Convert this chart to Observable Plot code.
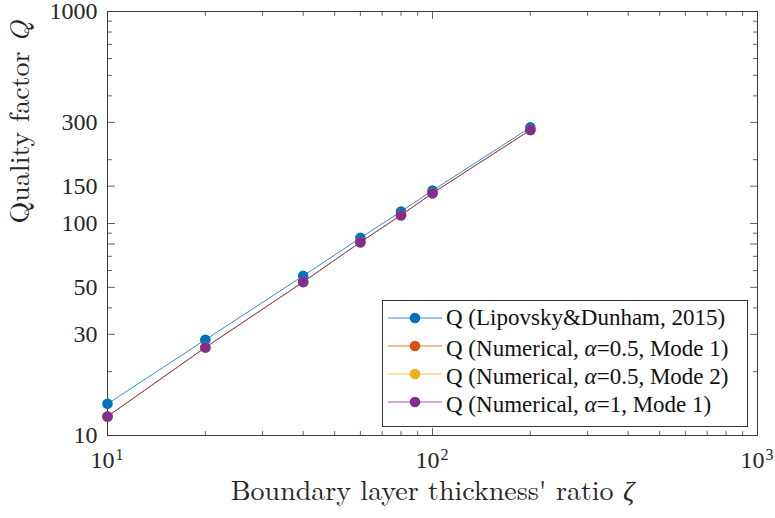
<!DOCTYPE html>
<html><head><meta charset="utf-8">
<script src="https://cdn.jsdelivr.net/npm/d3@7"></script>
<script src="https://cdn.jsdelivr.net/npm/@observablehq/plot@0.6"></script>
<style>
body{margin:0;background:#fff;}
#wrap{position:relative;width:775px;height:518px;}
</style></head><body><div id="wrap"></div>
<script>
// ---- data ----
const zeta = [10, 20, 40, 60, 80, 100, 200];
const qLipovsky = [14.1, 28.3, 56.6, 85.5, 114, 143, 284];
const qNum05Mode1 = [12.3, 26.0, 53.0, 81.6, 109.4, 139, 276];
const qNum05Mode2 = [12.3, 26.0, 53.0, 81.6, 109.4, 139, 276];
const qNum1Mode1 = [12.3, 26.0, 53.0, 81.6, 109.4, 139, 276];
const seriesNames = [
  "Q (Lipovsky&Dunham, 2015)",
  "Q (Numerical, α=0.5, Mode 1)",
  "Q (Numerical, α=0.5, Mode 2)",
  "Q (Numerical, α=1, Mode 1)"
];
const seriesColors = ["#0072BD", "#D95319", "#EDB120", "#7E2F8E"];
const yTicksLabeled = [10, 30, 50, 80, 100, 150, 300, 1000];
const yTicksMinor = [20, 40, 60, 70, 90, 200, 400, 500, 600, 700, 800, 900];
const xTicksMajor = [10, 100, 1000];
const xTicksMinor = [20, 30, 40, 50, 60, 70, 80, 90, 200, 300, 400, 500, 600, 700, 800, 900];
const xLabel = "Boundary layer thickness' ratio ζ";
const yLabel = "Quality factor Q";

const TIMES = "'Liberation Serif', 'Times New Roman', serif";
const LATEX = "'Latin Modern Roman', 'Liberation Serif', serif";

const seriesValues = [qLipovsky, qNum05Mode1, qNum05Mode2, qNum1Mode1];
const seriesData = seriesValues.map((vals, s) => zeta.map((z, i) => ({zeta: z, q: vals[i], s})));

const tickShape = {draw(ctx, l) { ctx.moveTo(0, 0); ctx.lineTo(0, -l); }};
const axisColor = "#3a3a3a";
function ticks(data, ch, anchor, rotate, length) {
  return Plot.vector(data, {[ch]: d => d, frameAnchor: anchor, rotate, length, anchor: "start", shape: tickShape, stroke: axisColor, strokeWidth: 0.8});
}

const marks = [];
marks.push(ticks(yTicksLabeled, "y", "left", 90, 7));
marks.push(ticks(yTicksMinor, "y", "left", 90, 4));
marks.push(ticks(yTicksLabeled, "y", "right", -90, 7));
marks.push(ticks(yTicksMinor, "y", "right", -90, 4));
marks.push(ticks(xTicksMajor, "x", "bottom", 0, 7));
marks.push(ticks(xTicksMinor, "x", "bottom", 0, 4));
marks.push(ticks(xTicksMajor, "x", "top", 180, 7));
marks.push(ticks(xTicksMinor, "x", "top", 180, 4));
marks.push(Plot.frame({stroke: axisColor, strokeWidth: 1}));
marks.push(Plot.axisY({ticks: yTicksLabeled, tickSize: 0, tickPadding: 10, tickFormat: d => String(d), fontSize: 24, fontFamily: TIMES, fill: "#262626", label: null}));
marks.push(Plot.text(xTicksMajor, {x: d => d, frameAnchor: "bottom", text: () => "10", dy: 32, dx: -5, fontSize: 24, fontFamily: TIMES, fill: "#262626"}));
marks.push(Plot.text(xTicksMajor, {x: d => d, frameAnchor: "bottom", text: d => String(Math.round(Math.log10(d))), dy: 24, dx: 8, textAnchor: "start", fontSize: 16, fontFamily: TIMES, fill: "#262626"}));
marks.push(Plot.text([xLabel], {frameAnchor: "bottom", text: d => d, dy: 64, fontSize: 28, fontFamily: LATEX, fill: "#262626", className: "xtitle"}));
marks.push(Plot.text([yLabel], {frameAnchor: "left", text: d => d, rotate: -90, dx: -87, fontSize: 28, fontFamily: LATEX, fill: "#262626", className: "ytitle"}));
seriesData.forEach((d, s) => {
  marks.push(Plot.line(d, {x: "zeta", y: "q", stroke: seriesColors[s], strokeWidth: 0.8}));
  marks.push(Plot.dot(d, {x: "zeta", y: "q", fill: seriesColors[s], r: 5.3}));
});

const chart = Plot.plot({
  width: 775, height: 518,
  marginLeft: 107, marginRight: 18, marginTop: 11, marginBottom: 83,
  style: {fontSize: "24px", color: "#262626", background: "#fff"},
  x: {type: "log", domain: [10, 1000], axis: null},
  y: {type: "log", domain: [10, 1000], axis: null},
  marks
});
document.getElementById("wrap").appendChild(chart);

function italicLast(sel, ch) {
  d3.select(chart).selectAll(sel + " text").each(function() {
    const t = this.textContent;
    const idx = t.lastIndexOf(ch);
    this.textContent = "";
    const el = d3.select(this);
    el.append("tspan").text(t.slice(0, idx));
    el.append("tspan").attr("font-style", "italic").text(ch);
  });
}
italicLast(".xtitle", "ζ");
italicLast(".ytitle", "Q");

// legend
const legend = d3.select("#wrap").append("div")
  .style("position", "absolute").style("left", "382px").style("top", "300px")
  .style("width", "366px").style("height", "127px").style("box-sizing", "border-box")
  .style("border", "1px solid #333").style("background", "#fff")
  .style("font-family", TIMES).style("font-size", "23px").style("color", "#111");
seriesNames.forEach((name, s) => {
  const row = legend.append("div")
    .style("position", "absolute").style("left", "0px").style("top", (3 + s * 28) + "px")
    .style("height", "28px").style("display", "flex").style("align-items", "center").style("white-space", "nowrap");
  const sw = row.append("svg").attr("width", 63).attr("height", 28).style("display", "block");
  sw.append("line").attr("x1", 5).attr("x2", 59).attr("y1", 14).attr("y2", 14).attr("stroke", seriesColors[s]).attr("stroke-width", 0.8);
  sw.append("circle").attr("cx", 32).attr("cy", 14).attr("r", 5.3).attr("fill", seriesColors[s]);
  const parts = name.split("α");
  const span = row.append("span");
  parts.forEach((p, i) => {
    if (i > 0) span.append("span").style("font-family", LATEX).style("font-style", "italic").text("α");
    span.append("span").text(p);
  });
});
</script>
</body></html>
